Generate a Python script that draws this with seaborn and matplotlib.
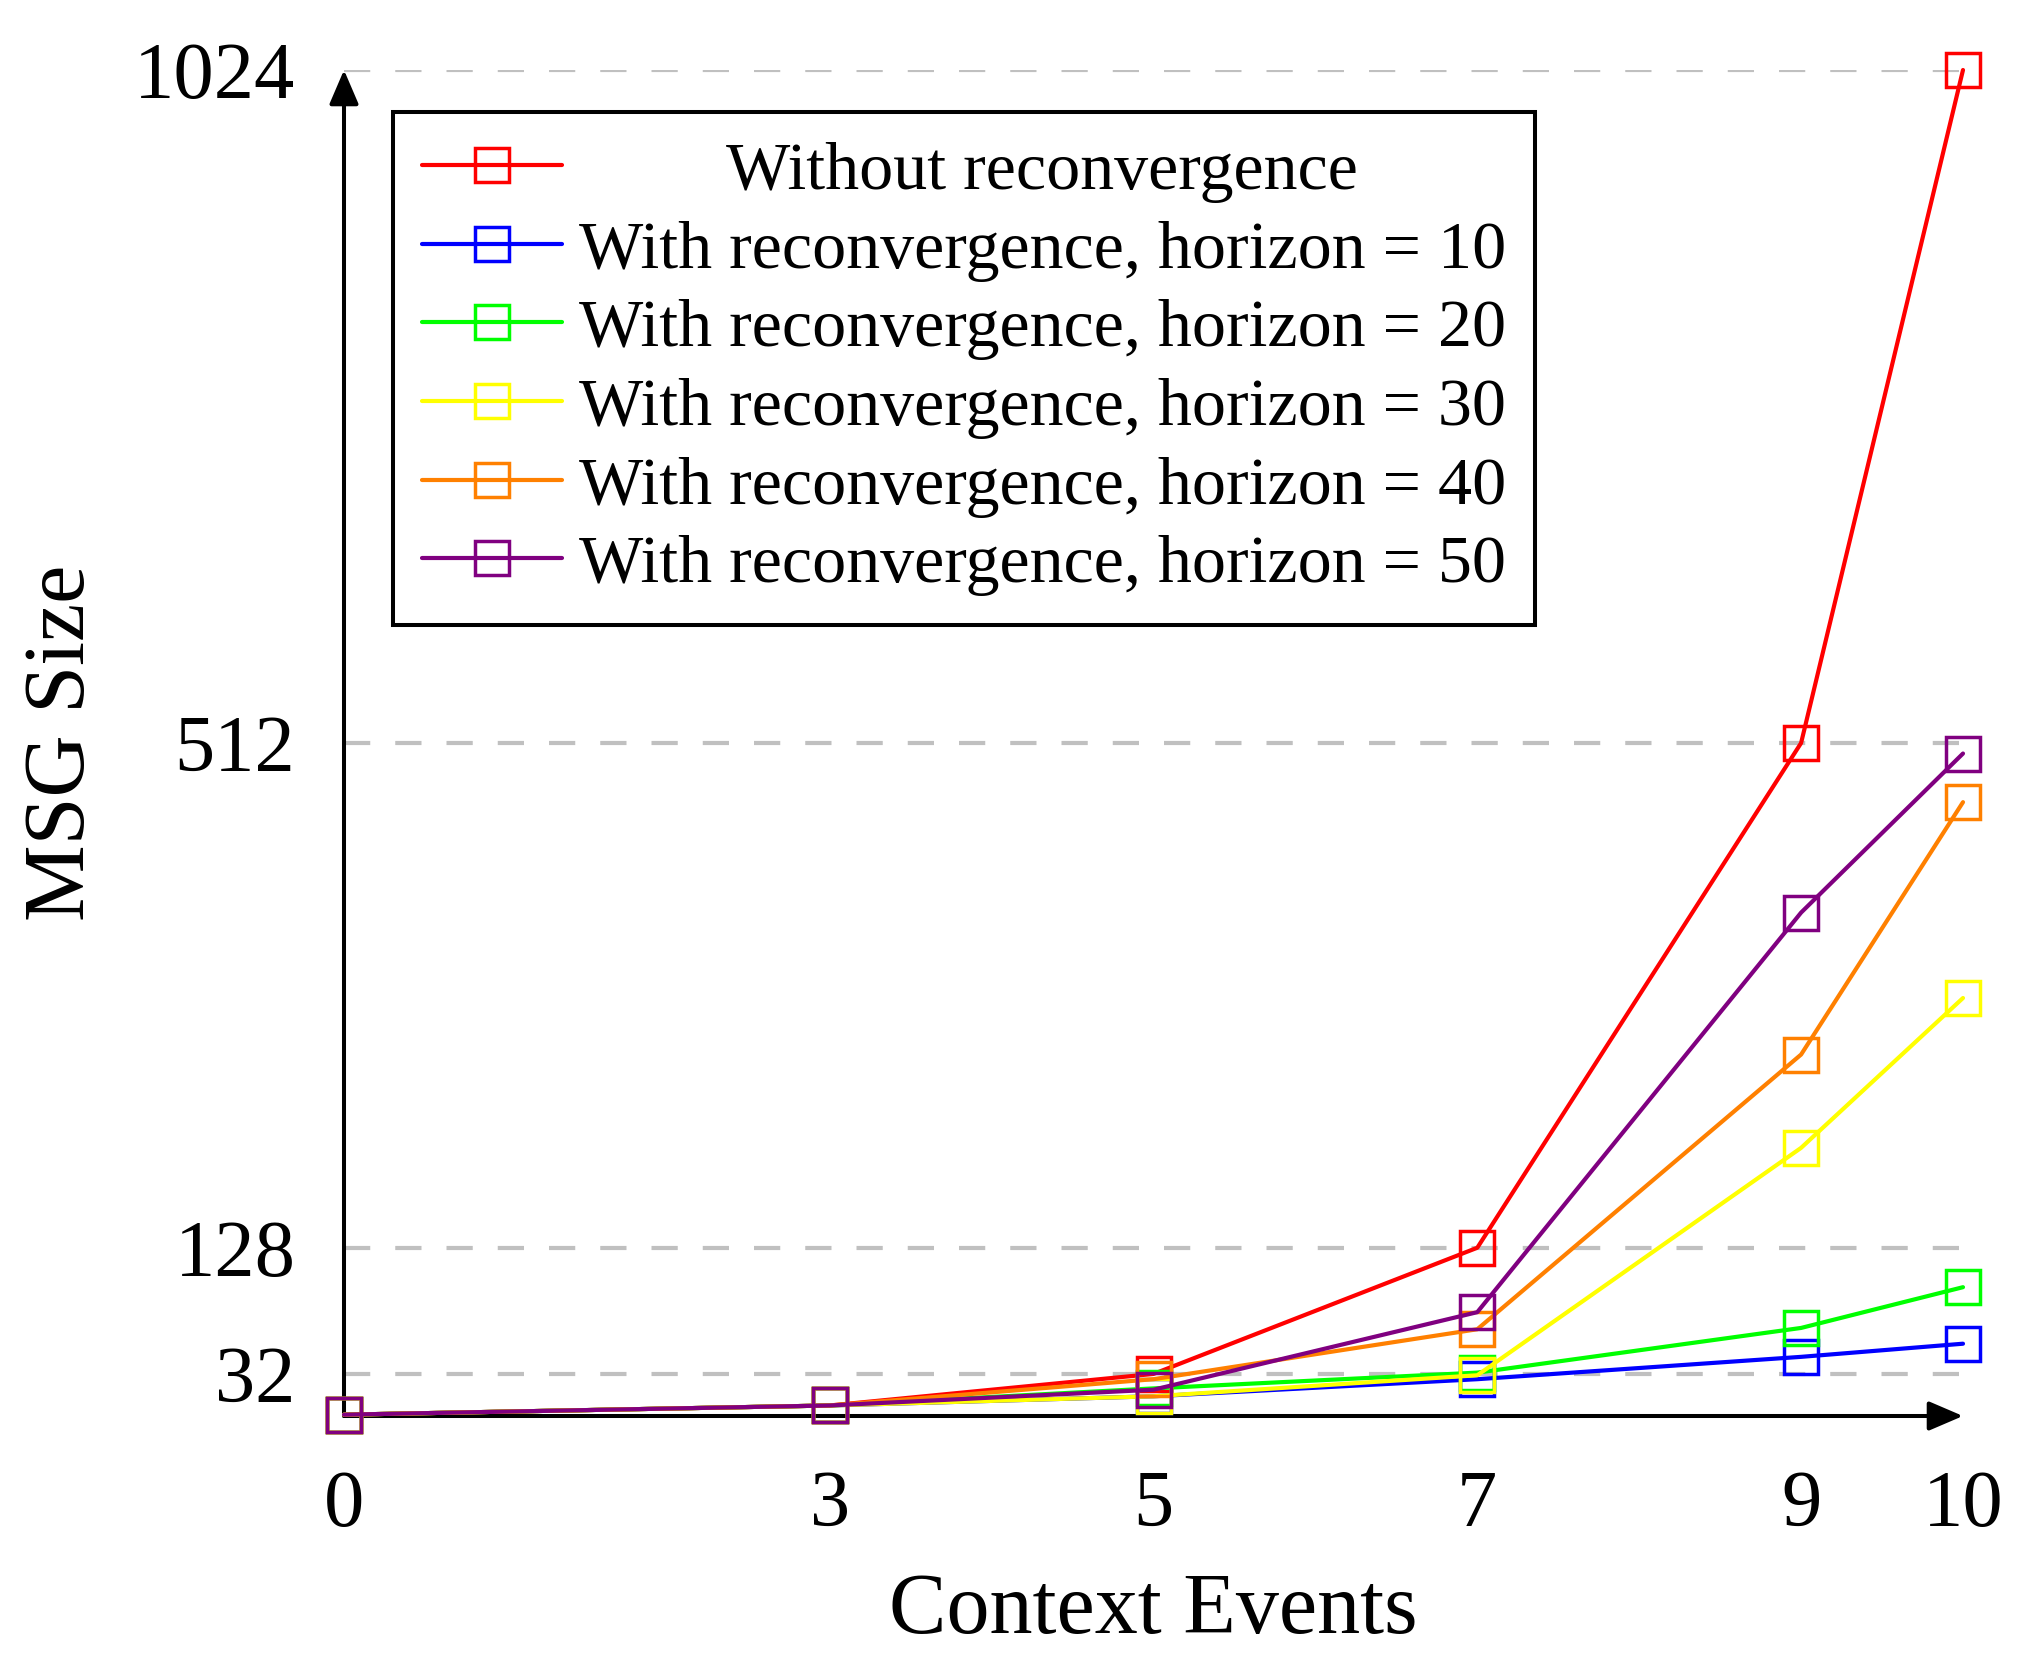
import matplotlib
matplotlib.use('Agg')
import pandas as pd
import seaborn as sns
from matplotlib import pyplot as plt

# values
events = [0, 3, 5, 7, 9, 10]
no_reconv = [1, 8, 32, 128, 512, 1024]
horizon_10 = [1, 8, 15, 28, 45, 55]
horizon_20 = [1, 8, 21, 33, 67, 98]
horizon_30 = [1, 8, 15, 31, 204, 318]
horizon_40 = [1, 8, 28, 66, 275, 467]
horizon_50 = [1, 8, 20, 79, 383, 504]

names = ['Without reconvergence',
         'With reconvergence, horizon = 10',
         'With reconvergence, horizon = 20',
         'With reconvergence, horizon = 30',
         'With reconvergence, horizon = 40',
         'With reconvergence, horizon = 50']
colors = ['#ff0000', '#0000ff', '#00ff00', '#ffff00', '#ff8000', '#800080']
x_ticks = [0, 3, 5, 7, 9, 10]
y_ticks = [32, 128, 512, 1024]

sns.set_theme(style='white')
plt.rcParams['font.family'] = ['Liberation Serif', 'DejaVu Serif']
plt.rcParams['text.color'] = 'black'
plt.rcParams['axes.labelcolor'] = 'black'

W, H = 2034, 1662
fig = plt.figure(figsize=(W / 100, H / 100), dpi=100)
ax = fig.add_axes([344 / W, 1 - 1416 / H, (1963 - 344) / W, (1416 - 70) / H])

all_series = [no_reconv, horizon_10, horizon_20, horizon_30, horizon_40, horizon_50]
for name, vals, c in zip(names, all_series, colors):
	df = pd.DataFrame({'events': events, 'size': vals})
	sns.lineplot(data=df, x='events', y='size', ax=ax, color=c, lw=3.0,
				 marker='s', markersize=24, mfc='none', mec=c, mew=2.5,
				 label=name, clip_on=False)

ax.set_xlim(0, 10)
ax.set_ylim(0, 1024)
ax.set_xticks(x_ticks)
ax.set_yticks(y_ticks)
ax.set_xticklabels([str(v) for v in x_ticks])
ax.set_yticklabels([str(v) for v in y_ticks])
ax.tick_params(axis='both', direction='inout', length=26, width=1.4, color='#808080',
			   labelcolor='black')
ax.tick_params(axis='x', pad=26, labelsize=58)
ax.tick_params(axis='y', pad=22, labelsize=58)

ax.yaxis.grid(True, color='#c0c0c0', lw=3.0, ls=(0, (6.3, 6.0)))
ax.xaxis.grid(False)
for s in ax.spines.values():
	s.set_visible(False)

# axis lines with arrow heads
arrow = dict(arrowstyle='-|>,head_length=0.7,head_width=0.3', lw=2.9, color='black',
			 shrinkA=0, shrinkB=0, mutation_scale=30)
ax.annotate('', xy=(1, 0), xytext=(0, 0), xycoords='axes fraction', arrowprops=arrow, zorder=1.5)
ax.annotate('', xy=(0, 1), xytext=(0, 0), xycoords='axes fraction', arrowprops=arrow, zorder=1.5)

ax.set_xlabel('Context Events', fontsize=62, va='top', color='black')
ax.set_ylabel('MSG Size', fontsize=62, va='bottom', color='black')
ax.xaxis.set_label_coords(0.5, -(1573 - 1416) / (1416 - 70))
ax.yaxis.set_label_coords(-(344 - 103) / (1963 - 344), 0.5)

leg = ax.legend(loc='upper left', bbox_to_anchor=(393 / W, 1 - 112 / H),
				bbox_transform=fig.transFigure, borderaxespad=0, fontsize=49,
				handlelength=2.05, handletextpad=0.25, borderpad=0.43,
				labelspacing=0.25, fancybox=False, framealpha=1, edgecolor='black')
leg.get_frame().set_linewidth(2.9)
for t in leg.get_texts():
	t.set_color('black')

# centre the first legend entry like the original
fig.canvas.draw()
r = fig.canvas.get_renderer()
texts = leg.get_texts()
widths = [t.get_window_extent(r).width for t in texts]
texts[0].set_x((max(widths) - widths[0]) / 2)

plt.savefig('out.png', dpi=100)
